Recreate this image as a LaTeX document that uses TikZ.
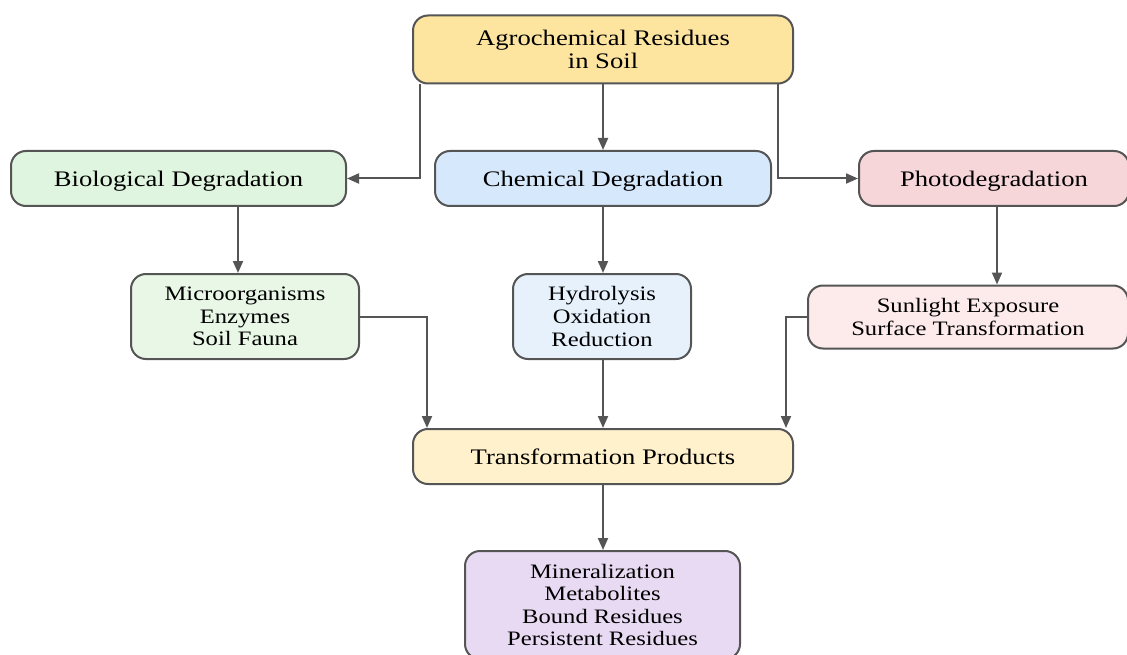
\documentclass[tikz,border=0pt]{standalone}
\usepackage{fontspec}
\setmainfont[FakeStretch=1.2]{Liberation Serif}
\usetikzlibrary{arrows.meta,calc}
\definecolor{edgec}{HTML}{555555}
\definecolor{cTop}{HTML}{FDE5A0}
\definecolor{cBio}{HTML}{DFF5DF}
\definecolor{cChem}{HTML}{D6E8FB}
\definecolor{cPhoto}{HTML}{F7D6DA}
\definecolor{cMicro}{HTML}{E8F7E6}
\definecolor{cHydro}{HTML}{E6F1FC}
\definecolor{cSun}{HTML}{FDEBEC}
\definecolor{cTrans}{HTML}{FFF1CC}
\definecolor{cFinal}{HTML}{E8DAF2}
\begin{document}
\begin{tikzpicture}[x=1pt,y=-1pt,
  box/.style={draw=edgec, line width=2pt, rounded corners=15pt, rectangle,
    inner sep=0pt, align=center, text=black,
    font=\fontsize{22.2}{23.5}\selectfont},
  onebox/.style={box, text depth=0pt},
  subbox/.style={box, font=\fontsize{20.5}{22.6}\selectfont},
  arr/.style={draw=edgec, line width=2pt, -{Triangle[length=12pt,width=10pt]}}]
\useasboundingbox (0,0) rectangle (1127,655);
\node[box, fill=cTop, minimum width=380pt, minimum height=68pt] (top) at (603,49.5) {Agrochemical Residues\\in Soil};
\node[onebox, fill=cBio, minimum width=335pt, minimum height=55pt] (bio) at (178.5,178.5) {Biological Degradation};
\node[onebox, fill=cChem, minimum width=336pt, minimum height=55pt] (chem) at (603,178.5) {Chemical Degradation};
\node[onebox, fill=cPhoto, minimum width=270pt, minimum height=55pt] (photo) at (994,178.5) {Photodegradation};
\node[subbox, fill=cMicro, minimum width=228pt, minimum height=85pt] (micro) at (245,316.5) {Microorganisms\\Enzymes\\Soil Fauna};
\node[subbox, fill=cHydro, minimum width=178pt, minimum height=85pt] (hydro) at (602,316.5) {Hydrolysis\\Oxidation\\Reduction};
\node[subbox, fill=cSun, minimum width=320pt, minimum height=63pt] (sun) at (968,317) {Sunlight Exposure\\Surface Transformation};
\node[onebox, fill=cTrans, minimum width=380pt, minimum height=55pt] (trans) at (603,456.5) {Transformation Products};
\node[subbox, fill=cFinal, minimum width=275pt, minimum height=108pt] (final) at (602.5,605) {Mineralization\\Metabolites\\Bound Residues\\Persistent Residues};
\coordinate (bx) at (238,0);
\coordinate (sx) at (997,0);
\draw[arr] ([xshift=8pt]top.south west) |- (bio.east);
\draw[arr] (top.south) -- (chem.north);
\draw[arr] ([xshift=-16pt]top.south east) |- (photo.west);
\draw[arr] (bio.south -| bx) -- (micro.north -| bx);
\draw[arr] (chem.south) -- (hydro.north -| chem.south);
\draw[arr] (photo.south -| sx) -- (sun.north -| sx);
\draw[arr] (micro.east) -| ([xshift=15pt]trans.north west);
\draw[arr] (hydro.south -| trans.north) -- (trans.north);
\draw[arr] (sun.west) -| ([xshift=-8pt]trans.north east);
\draw[arr] (trans.south) -- (final.north -| trans.south);
\end{tikzpicture}
\end{document}
